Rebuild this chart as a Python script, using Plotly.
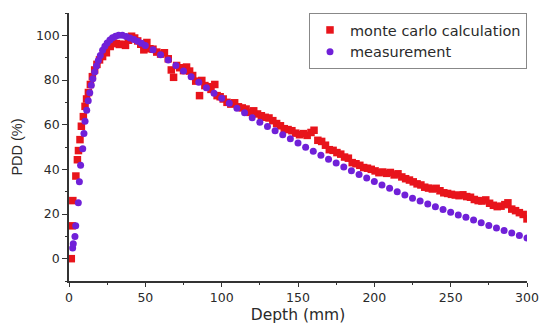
import plotly.graph_objects as go

# Monte Carlo calculation (red squares)
mc_depth = [1.5, 2.0, 2.5, 4.5, 5.5, 6.2, 7.2, 8.1, 9.4, 10.5, 11.5, 12.7, 14.0, 15.3, 16.8, 18.3,
            20.0, 22.0, 24.5, 27.0, 29.0, 31.0, 33.0, 35.0, 37.0, 39.0, 41.0, 43.0, 45.0, 47.0,
            49.0, 51.0, 53.0, 55.0, 57.5, 60.0, 62.5, 65.0, 67.0, 68.5, 70.5, 72.5, 75.0, 77.0,
            79.0, 81.0, 83.0, 85.5, 87.0, 89.0, 91.0, 93.0, 95.5, 97.0, 99.0, 101.0, 103.5,
            106.0, 108.5, 111.0, 113.5, 116.0, 118.5, 121.0, 123.5, 126.0, 128.5, 131.0, 133.5,
            136.0, 138.5, 141.0, 143.5, 146.0, 148.5, 151.0, 153.5, 156.0, 158.5, 160.5, 163.0,
            165.5, 168.0, 170.5, 173.0, 175.5, 178.0, 180.5, 183.0, 185.5, 188.0, 190.5, 193.0,
            195.5, 198.0, 200.5, 203.0, 205.5, 208.0, 210.5, 213.0, 215.5, 218.0, 220.5, 223.0,
            225.5, 228.0, 230.5, 233.0, 235.5, 238.0, 240.5, 243.0, 245.5, 248.0, 250.5, 253.0,
            255.5, 258.0, 260.5, 263.0, 265.5, 268.0, 270.5, 273.0, 275.5, 278.0, 280.5, 283.0,
            285.5, 287.5, 290.0, 292.5, 295.0, 297.5, 300.0]
mc_pdd = [0.0, 14.7, 26.0, 37.0, 44.3, 48.4, 53.3, 59.3, 63.6, 68.2, 71.5, 74.4, 78.0, 81.5, 84.5, 87.0,
          89.0, 90.5, 92.2, 95.0, 96.5, 96.3, 95.9, 96.0, 95.5, 97.8, 99.6, 98.8, 97.5, 96.0,
          93.5, 96.8, 94.0, 93.8, 92.5, 91.6, 92.2, 89.5, 84.5, 81.2, 86.5, 85.5, 84.2, 85.8,
          84.0, 82.0, 79.5, 73.0, 79.8, 77.5, 77.0, 75.8, 78.0, 73.0, 72.5, 71.5, 70.0,
          69.2, 69.8, 68.0, 67.5, 67.0, 65.5, 66.2, 64.8, 64.0, 63.3, 63.0, 61.8,
          60.5, 59.5, 58.2, 57.8, 57.3, 56.2, 55.5, 56.0, 55.2, 56.5, 57.5, 53.0,
          52.5, 50.8, 48.8, 48.5, 47.5, 46.8, 45.5, 45.0, 43.0, 42.5, 41.8, 40.8,
          40.5, 40.0, 39.3, 38.5, 38.8, 38.2, 38.6, 37.5, 38.0, 36.6, 35.8, 35.2,
          34.4, 33.5, 33.0, 32.0, 31.6, 31.2, 31.5, 30.4, 29.5, 29.2, 28.8, 28.5,
          28.2, 28.6, 27.8, 27.5, 26.5, 26.0, 25.8, 26.3, 24.8, 23.9, 23.3, 23.5,
          24.2, 25.0, 22.2, 21.5, 20.6, 19.8, 17.8]

# Measurement (purple circles)
meas_depth = [2.4, 2.8, 3.9, 4.4, 6.1, 6.8, 7.6, 9.0, 9.8, 10.5, 11.6, 12.6, 13.6, 14.6, 15.6, 16.8,
              18.0, 19.2, 20.5, 22.0, 23.5, 25.0, 26.8, 28.5, 30.5, 32.5, 35.0, 37.5, 40.0, 42.5,
              45.0, 47.5, 50, 55, 60, 65, 70, 75, 80, 85, 90, 95, 100, 105, 110, 115, 120, 125,
              130, 135, 140, 145, 150, 155, 160, 165, 170, 175, 180, 185, 190, 195, 200, 205,
              210, 215, 220, 225, 230, 235, 240, 245, 250, 255, 260, 265, 270, 275, 280, 285,
              290, 295, 300]
meas_pdd = [4.8, 6.7, 9.9, 14.7, 25.0, 34.4, 41.8, 49.2, 56.1, 61.5, 66.5, 70.7, 74.3, 77.6, 80.6, 83.6,
            86.3, 88.7, 91.0, 93.3, 95.1, 96.6, 97.9, 98.9, 99.6, 100.0, 100.0, 99.5, 98.8, 98.1,
            97.4, 96.4, 95.5, 93.5, 91.3, 89.0, 86.5, 84.0, 81.5, 79.0, 76.5, 74.1, 71.8, 69.6,
            67.4, 65.3, 63.1, 61.1, 59.2, 57.3, 55.5, 53.7, 51.8, 49.9, 48.1, 46.3, 44.5, 42.8,
            41.1, 39.4, 37.7, 36.1, 34.5, 33.0, 31.5, 30.0, 28.5, 27.1, 25.8, 24.5, 23.2, 22.0,
            20.8, 19.6, 18.5, 17.3, 16.1, 14.9, 13.7, 12.6, 11.5, 10.4, 9.3]

x_ticks = [0, 50, 100, 150, 200, 250, 300]
y_ticks = [0, 20, 40, 60, 80, 100]

RED = "#e8141b"
PURPLE = "#7020d8"
TXT = "#2a2a2a"
AX = "#333333"

fig = go.Figure()
fig.add_trace(go.Scatter(x=mc_depth, y=mc_pdd, mode="markers", name="monte carlo calculation",
                         marker=dict(symbol="square", size=7.5, color=RED, line=dict(width=0))))
fig.add_trace(go.Scatter(x=meas_depth, y=meas_pdd, mode="markers", name="measurement",
                         marker=dict(symbol="circle", size=7, color=PURPLE, line=dict(width=0))))

fig.update_layout(
    width=540, height=324,
    margin=dict(l=69, r=13, t=13, b=43),
    paper_bgcolor="white", plot_bgcolor="white",
    font=dict(family="DejaVu Sans", color=TXT),
    showlegend=True,
    legend=dict(x=1, xanchor="right", y=1, yanchor="top",
                bordercolor="#888888", borderwidth=1, bgcolor="white",
                font=dict(family="DejaVu Sans", size=14.5, color=TXT),
                tracegroupgap=0, itemsizing="trace", itemwidth=30),
    xaxis=dict(range=[0, 300], tickvals=x_ticks, ticktext=[str(v) for v in x_ticks],
               showgrid=False, zeroline=False, showline=True, linecolor=AX, linewidth=1.5,
               ticks="outside", ticklen=4, tickwidth=1.2, tickcolor=AX,
               minor=dict(dtick=25, ticks="outside", ticklen=2, tickcolor=AX, tickwidth=1.2, showgrid=False),
               tickfont=dict(family="DejaVu Sans", size=12.5, color=TXT),
               title=dict(text="Depth (mm)", font=dict(family="DejaVu Sans", size=15.5, color=TXT), standoff=6),
               automargin=False),
    yaxis=dict(range=[-10, 110], tickvals=y_ticks, ticktext=[str(v) for v in y_ticks],
               showgrid=False, zeroline=False, showline=True, linecolor=AX, linewidth=1.5,
               ticks="outside", ticklen=5, tickwidth=1.2, tickcolor=AX,
               minor=dict(dtick=10, ticks="outside", ticklen=2, tickcolor=AX, tickwidth=1.2, showgrid=False),
               tickfont=dict(family="DejaVu Sans", size=12.5, color=TXT),
               title=dict(text="PDD (%)", font=dict(family="Liberation Sans", size=14.5, color=TXT), standoff=10),
               automargin=False),
)

fig.write_html("out.html")
